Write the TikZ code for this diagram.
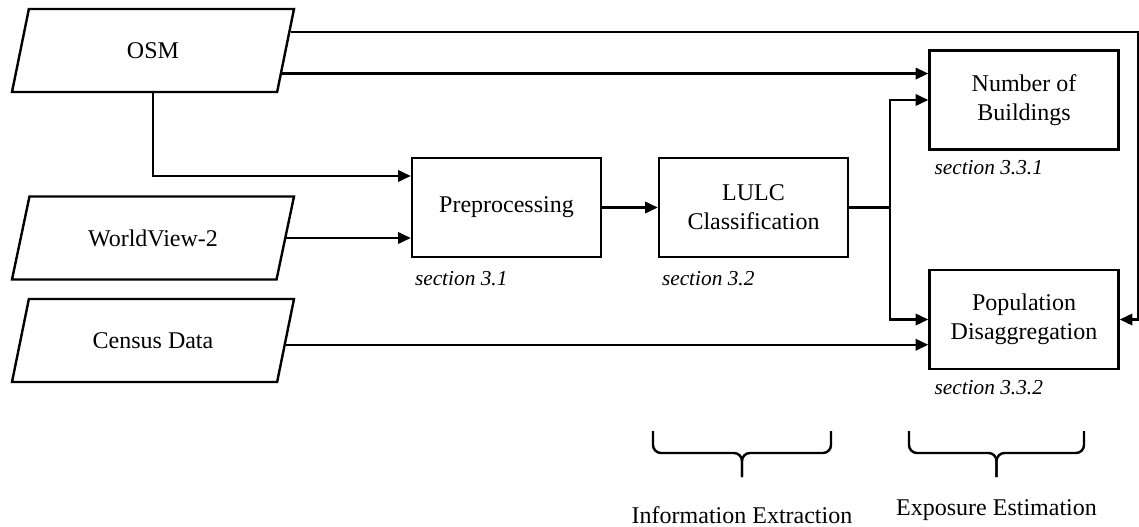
\documentclass[tikz,border=0pt]{standalone}
\usepackage{fontspec}
\setmainfont{Liberation Serif}
\usetikzlibrary{positioning}
\usetikzlibrary{calc}
\usetikzlibrary{shapes.geometric}
\usetikzlibrary{arrows.meta}

\tikzset{
  box/.style={draw, minimum width=141.75pt, minimum height=74.25pt, align=center, font=\fontsize{18}{22}\selectfont},
  data/.style={draw, trapezium, trapezium left angle=56, trapezium right angle=124, trapezium stretches body=true, minimum width=211.5pt, minimum height=62.25pt, font=\fontsize{18}{22}\selectfont},
  sec/.style={anchor=west, inner sep=0pt, font=\fontsize{16}{19}\selectfont\itshape},
  arr/.style={-{Triangle[length=9.5pt,width=8.5pt]}},
}

\begin{document}
\begin{tikzpicture}[x=0.75pt, y=-0.75pt, line width=1.8pt]
\useasboundingbox (0,0) rectangle (1139,527);
\node[data] (osm) at (153,50.5) {OSM};
\node[data] (wv) at (153,238) {WorldView-2};
\node[data] (census) at (153,340.5) {Census Data};
\node[box] (prep) at (506.5,207.5) {Preprocessing};
\node[box] (lulc) at (753.5,207.5) {LULC\\Classification};
\node[box] (nob) at (1024,100) {Number of\\Buildings};
\node[box] (pop) at (1024,319.5) {Population\\Disaggregation};
\node[sec] (sec31) at ($(prep.south west)+(3,20)$) {section 3.1};
\node[sec] (sec32) at ($(lulc.south west)+(3,20)$) {section 3.2};
\node[sec] (sec331) at ($(nob.south west)+(5,17)$) {section 3.3.1};
\node[sec] (sec332) at ($(pop.south west)+(5,17)$) {section 3.3.2};

\coordinate (osmtop) at ($(osm.top right corner)!0.28!(osm.bottom right corner)$);
\coordinate (osmmid) at ($(osm.top right corner)!0.77!(osm.bottom right corner)$);
\coordinate (cen) at ($(census.top right corner)!0.55!(census.bottom right corner)$);
\coordinate (split) at ($(lulc.east)+(41,0)$);
\coordinate (edge) at ($(pop.east)+(18,0)$);

\draw[arr] (osmtop) -| (edge) -- (pop.east);
\draw[arr] (osmmid) -- (osmmid -| nob.west);
\draw[arr] (osm.south) |- ($(prep.west)+(0,-31.5)$);
\draw[arr] (wv.east) -- (wv.east -| prep.west);
\draw[arr] (prep.east) -- (lulc.west);
\draw (lulc.east) -- (split);
\draw[arr] (split) |- (nob.west);
\draw[arr] (split) |- (pop.west);
\draw[arr] (cen) -- (cen -| pop.west);

\foreach \l/\m/\r/\ty/\n/\t in {653/742/831/515/ie/Information Extraction, 909/996.5/1084/510/ee/Exposure Estimation} {
  \draw[rounded corners=6pt] (\l,431) |- (\m,453) -- (\m,477);
  \draw[rounded corners=6pt] (\r,431) |- (\m,453) -- (\m,477);
  \node[font=\fontsize{18}{22}\selectfont] (\n) at (\m,\ty) {\t};
}
\end{tikzpicture}
\end{document}
